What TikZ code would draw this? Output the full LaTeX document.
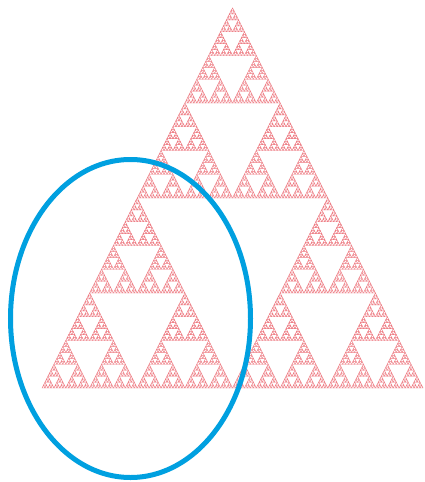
\documentclass[tikz,border=0pt]{standalone}
\begin{document}
\definecolor{sierpink}{RGB}{238,120,128}
\definecolor{ringblue}{RGB}{0,160,224}
\tikzset{sp/.style={draw=sierpink,line width=0.45pt,line join=miter},
         ring/.style={draw=ringblue,line width=5pt}}
\makeatletter
% #1 depth, #2 apex x, #3 apex y, #4 width, #5 height (y grows downward)
\def\sierp#1#2#3#4#5{%
  \ifnum#1=0
    \draw[sp] (#2,#3) -- ++(-#4/2,#5) -- ++(#4,0) -- cycle;%
  \else
    \begingroup
      \pgfmathsetmacro\sW{#4/2}%
      \pgfmathsetmacro\sH{#5/2}%
      \pgfmathsetmacro\xL{#2-#4/4}%
      \pgfmathsetmacro\xR{#2+#4/4}%
      \pgfmathsetmacro\yB{#3+#5/2}%
      \pgfmathtruncatemacro\dd{#1-1}%
      \edef\sp@next{\noexpand\sierp{\dd}{#2}{#3}{\sW}{\sH}%
        \noexpand\sierp{\dd}{\xL}{\yB}{\sW}{\sH}%
        \noexpand\sierp{\dd}{\xR}{\yB}{\sW}{\sH}}%
    \expandafter\endgroup\sp@next
  \fi}
\makeatother
\begin{tikzpicture}[x=1pt,y=-1pt]
\useasboundingbox (0,0) rectangle (424,482);
\fill[white] (0,0) rectangle (424,482);
\sierp{7}{232.5}{8}{381}{380}
\draw[ring] (130.5,318.5) ellipse [x radius=120, y radius=159];
\end{tikzpicture}
\end{document}
